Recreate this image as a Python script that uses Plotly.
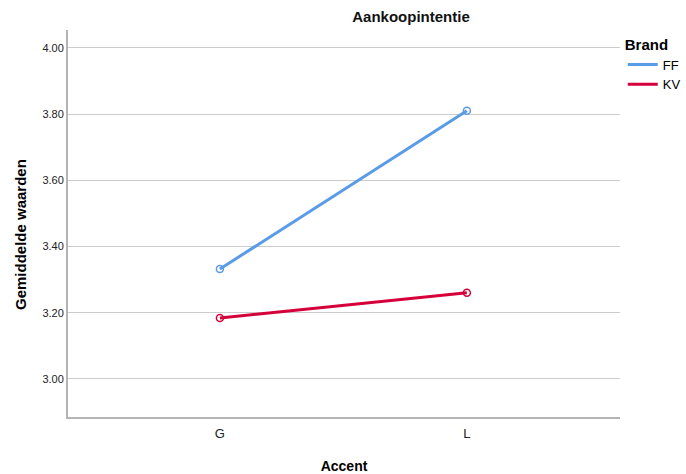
import plotly.graph_objects as go

categories = ["G", "L"]
brands = ["FF", "KV"]
ff_values = [3.332, 3.81]
kv_values = [3.184, 3.26]
y_ticks = [3.00, 3.20, 3.40, 3.60, 3.80, 4.00]
colors = {"FF": "#5A9BE8", "KV": "#D5003A"}

series = {"FF": ff_values, "KV": kv_values}
xpos = list(range(len(categories)))

W, H = 686, 474
PL, PR, PT, PB = 68, 620, 30, 417  # plot area edges in pixels

fig = go.Figure()
for b in brands:
    fig.add_trace(go.Scatter(
        x=xpos, y=series[b], mode="lines+markers", showlegend=False,
        line=dict(color=colors[b], width=3),
        marker=dict(symbol="circle-open", size=7, color=colors[b], line=dict(width=1.5)),
        hoverinfo="skip"))
for b in brands:
    fig.add_trace(go.Scatter(
        x=[None], y=[None], mode="lines", name=b,
        line=dict(color=colors[b], width=3)))

font_fam = "Liberation Sans, Arial, sans-serif"
fig.update_layout(
    width=W, height=H,
    margin=dict(l=PL, r=W - PR, t=PT, b=H - PB, autoexpand=False),
    paper_bgcolor="white", plot_bgcolor="white",
    font=dict(family=font_fam, color="#000000"),
    title=dict(text="<b>Aankoopintentie</b>", x=411 / W, xref="container", xanchor="center",
               y=1 - 17 / H, yref="container", yanchor="middle",
               font=dict(size=15, color="#111111")),
    legend=dict(x=1.005, y=1.0, xanchor="left", yanchor="top",
                title=dict(text="<b>Brand</b>", font=dict(size=15)),
                font=dict(size=13), tracegroupgap=0, itemwidth=30,
                bgcolor="rgba(0,0,0,0)"),
    xaxis=dict(tickmode="array", tickvals=xpos, ticktext=categories,
               range=[-0.615, 1.62], showgrid=False, zeroline=False, automargin=False,
               showline=True, linecolor="#B4B4B4", linewidth=2, mirror=False,
               ticks="", ticklabelstandoff=3, tickfont=dict(size=13, color="#222222"),
               title=dict(text="<b>Accent</b>", font=dict(size=14), standoff=24)),
    yaxis=dict(tickmode="array", tickvals=y_ticks, ticktext=[f"{v:.2f}" for v in y_ticks],
               range=[2.885, 4.054], showgrid=True, gridcolor="#CCCCCC", gridwidth=1,
               zeroline=False, showline=True, linecolor="#B4B4B4", linewidth=2, automargin=False,
               ticks="", tickfont=dict(size=11, color="#222222")),
    annotations=[dict(text="<b>Gemiddelde waarden</b>", textangle=-90, showarrow=False,
                      xref="paper", yref="paper", x=(20 - PL) / (PR - PL), y=(PB - 235) / (PB - PT),
                      xanchor="center", yanchor="middle", font=dict(size=15, color="#000000"))],
)

fig.write_html("out.html", config={"displayModeBar": False},
               post_script="document.body.style.margin='0';document.body.style.overflow='hidden';")
